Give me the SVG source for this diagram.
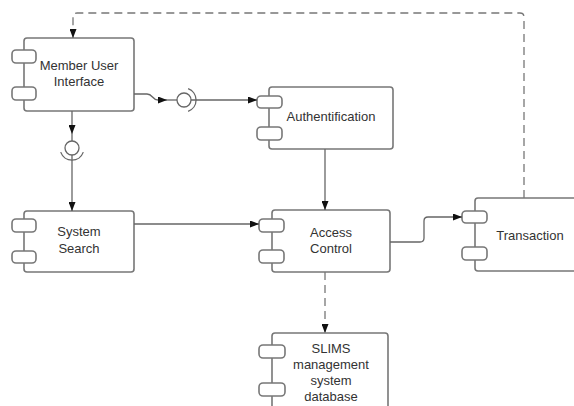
<svg xmlns="http://www.w3.org/2000/svg" width="574" height="406" viewBox="0 0 574 406">
<defs>
<marker id="arr" markerWidth="9" markerHeight="7" refX="9" refY="3.5" orient="auto" markerUnits="userSpaceOnUse">
<path d="M0,0 L9,3.5 L0,7 z" fill="#111"/>
</marker>
<style>
.box{fill:#fff;stroke:#777;stroke-width:1.6}
.port{fill:#fff;stroke:#777;stroke-width:1.6}
.t{font-family:"Liberation Sans",Arial,sans-serif;font-size:13px;fill:#333;text-anchor:middle}
.ln{fill:none;stroke:#666;stroke-width:1.3}
.dash{fill:none;stroke:#777;stroke-width:1.3;stroke-dasharray:8 5}
</style>
</defs>
<rect width="574" height="406" fill="#fff"/>
<g id="member-ui">
<rect class="box" x="24" y="38" width="110" height="73" rx="3"/>
<rect class="port" x="12" y="50" width="24" height="13" rx="4"/>
<rect class="port" x="12" y="87" width="24" height="13" rx="4"/>
<text class="t" x="79" y="70">Member User</text>
<text class="t" x="79" y="86">Interface</text>
</g>
<g id="authentification">
<rect class="box" x="269" y="87" width="124" height="62" rx="3"/>
<rect class="port" x="257" y="96" width="25" height="12" rx="4"/>
<rect class="port" x="257" y="127" width="25" height="13" rx="4"/>
<text class="t" x="331" y="121">Authentification</text>
</g>
<g id="system-search">
<rect class="box" x="24" y="211" width="110" height="61" rx="3"/>
<rect class="port" x="12" y="219" width="24" height="13" rx="4"/>
<rect class="port" x="12" y="251" width="24" height="12" rx="4"/>
<text class="t" x="79" y="236">System</text>
<text class="t" x="79" y="253">Search</text>
</g>
<g id="access-control">
<rect class="box" x="272" y="210" width="118" height="62" rx="3"/>
<rect class="port" x="259" y="219" width="25" height="13" rx="4"/>
<rect class="port" x="259" y="250" width="25" height="13" rx="4"/>
<text class="t" x="331" y="237">Access</text>
<text class="t" x="331" y="253">Control</text>
</g>
<g id="transaction">
<rect class="box" x="475" y="198" width="110" height="73" rx="3"/>
<rect class="port" x="462" y="211" width="25" height="12" rx="4"/>
<rect class="port" x="462" y="247" width="25" height="13" rx="4"/>
<text class="t" x="530" y="240">Transaction</text>
</g>
<g id="slims-db">
<rect class="box" x="272" y="333" width="116" height="80" rx="3"/>
<rect class="port" x="259" y="345" width="26" height="13" rx="4"/>
<rect class="port" x="259" y="383" width="26" height="13" rx="4"/>
<text class="t" x="331" y="353">SLIMS</text>
<text class="t" x="331" y="369">management</text>
<text class="t" x="331" y="385">system</text>
<text class="t" x="331" y="401">database</text>
</g>
<g id="connectors">
<path class="dash" d="M524,198 V17 Q524,13 520,13 H77 Q73,13 73,17 V38" marker-end="url(#arr)"/>
<path class="ln" d="M134,94 H147 C153,94 152,100 158,100 H167" marker-end="url(#arr)"/>
<path class="ln" d="M167,100 H177"/>
<circle class="ln" cx="184" cy="100" r="7"/>
<path class="ln" d="M188.1,88.7 A12,12 0 0 1 188.1,111.3"/>
<path class="ln" d="M191,100 H257" marker-end="url(#arr)"/>
<path class="ln" d="M72,111 V134" marker-end="url(#arr)"/>
<path class="ln" d="M72,134 V141"/>
<circle class="ln" cx="72" cy="148" r="7"/>
<path class="ln" d="M83.3,152.1 A12,12 0 0 1 60.7,152.1"/>
<path class="ln" d="M72,155 V211" marker-end="url(#arr)"/>
<path class="ln" d="M325,149 V210" marker-end="url(#arr)"/>
<path class="ln" d="M134,224 H259" marker-end="url(#arr)"/>
<path class="ln" d="M390,242 H420 Q424,242 424,238 V221 Q424,217 428,217 H462" marker-end="url(#arr)"/>
<path class="dash" d="M325,272 V333" marker-end="url(#arr)"/>
</g>
</svg>
